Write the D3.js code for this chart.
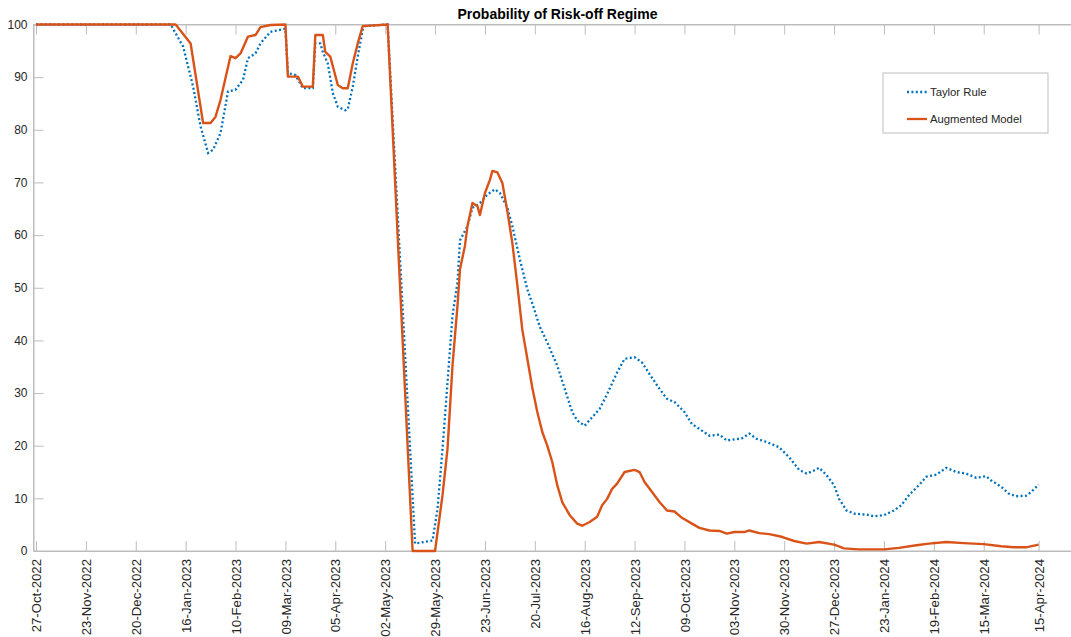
<!DOCTYPE html>
<html>
<head>
<meta charset="utf-8">
<script src="https://cdn.jsdelivr.net/npm/d3@7"></script>
<style>
  html, body { margin: 0; padding: 0; background: #fff; }
  svg { display: block; font-family: "Liberation Sans", Arial, Helvetica, sans-serif; }
</style>
</head>
<body>
<svg id="chart" width="1071" height="637"></svg>
<script>
// Observation positions (trading-day index) and tick labels for the x axis
const tickObs = [0, 20, 40, 60, 80, 100, 120, 140, 160, 180, 200, 220, 240, 260, 280, 300, 320, 340, 360, 380, 402];
const tickLabels = ["27-Oct-2022", "23-Nov-2022", "20-Dec-2022", "16-Jan-2023", "10-Feb-2023", "09-Mar-2023",
  "05-Apr-2023", "02-May-2023", "29-May-2023", "23-Jun-2023", "20-Jul-2023", "16-Aug-2023", "12-Sep-2023",
  "09-Oct-2023", "03-Nov-2023", "30-Nov-2023", "27-Dec-2023", "23-Jan-2024", "19-Feb-2024", "15-Mar-2024",
  "15-Apr-2024"];
const yTicks = [0, 10, 20, 30, 40, 50, 60, 70, 80, 90, 100];

// Taylor Rule: probability (%) of the risk-off regime
const taylorObs = [0, 54, 59, 63, 66, 69, 71, 74, 77, 80, 83, 85, 88, 90, 94, 100, 101, 104, 107, 111, 112, 114,
  115, 117, 119, 121, 124, 125, 127, 129, 131, 132, 141, 152, 159, 161, 163, 165, 167, 169, 170, 173, 175, 178,
  181, 184, 186, 189, 191, 194, 197, 199, 202, 205, 209, 212, 215, 217, 220, 223, 226, 229, 233, 236, 240, 243,
  246, 250, 253, 256, 260, 263, 266, 270, 274, 277, 283, 286, 289, 293, 298, 302, 306, 309, 312, 314, 317, 320,
  322, 325, 328, 333, 336, 340, 344, 347, 350, 354, 357, 361, 365, 369, 373, 377, 381, 383, 387, 390, 393, 397,
  399, 402];
const taylorRule = [100, 100, 95.8, 88.2, 80.6, 75.6, 76.2, 79.4, 87.3, 87.6, 89.5, 93.6, 94.5, 96.4, 98.6, 99.2,
  90.8, 90.4, 87.9, 87.9, 96.4, 96.4, 94.8, 92.6, 87.0, 84.4, 83.7, 83.9, 88.2, 93.9, 99.0, 99.7, 100, 1.4, 2.0,
  8.0, 19.4, 32.0, 44.7, 51.0, 59.0, 61.7, 65.2, 66.1, 67.7, 68.7, 68.0, 65.2, 61.7, 55.4, 49.7, 47.0, 42.6, 39.6,
  35.2, 30.8, 26.4, 24.8, 23.8, 25.4, 27.0, 29.8, 33.9, 36.5, 36.8, 35.8, 33.6, 30.8, 28.9, 28.3, 26.4, 24.1, 23.2,
  21.9, 22.1, 21.0, 21.4, 22.3, 21.3, 20.7, 19.7, 17.8, 15.4, 14.7, 15.3, 15.8, 14.4, 12.5, 9.9, 7.7, 7.1, 6.9,
  6.6, 6.8, 7.7, 8.7, 10.6, 12.5, 14.1, 14.5, 15.8, 15.0, 14.7, 13.9, 14.2, 13.4, 12.2, 10.9, 10.4, 10.5, 11.2,
  12.6];

// Augmented Model: probability (%) of the risk-off regime
const augmentedObs = [0, 56, 62, 67, 70, 72, 74, 78, 80, 82, 85, 88, 90, 94, 100, 101, 105, 107, 111, 112, 115,
  116, 118, 121, 123, 125, 127, 129, 131, 141, 151, 160, 163, 165, 167, 169, 170, 172, 173, 175, 177, 178, 180,
  182, 183, 185, 187, 189, 191, 193, 195, 197, 199, 201, 203, 205, 207, 209, 211, 214, 217, 219, 222, 225, 227,
  229, 231, 233, 236, 240, 242, 244, 247, 250, 253, 256, 259, 263, 266, 270, 274, 277, 280, 284, 286, 290, 294,
  299, 304, 309, 314, 320, 324, 330, 340, 346, 353, 358, 365, 372, 380, 387, 392, 397, 402];
const augmentedModel = [100, 100, 96.4, 81.3, 81.3, 82.5, 85.7, 94.0, 93.6, 94.5, 97.7, 98.0, 99.5, 99.9, 100,
  90.1, 90.1, 88.2, 88.2, 98.0, 98.0, 94.8, 93.9, 88.5, 87.9, 87.9, 92.6, 96.4, 99.7, 100, 0, 0, 10.6, 19.4,
  35.2, 46.6, 53.5, 58.0, 61.7, 66.1, 65.5, 63.8, 68.0, 70.5, 72.2, 71.9, 69.9, 64.5, 58.5, 50.5, 42.0, 36.5,
  31.0, 26.4, 22.6, 20.0, 16.9, 12.5, 9.3, 6.8, 5.2, 4.8, 5.5, 6.5, 8.7, 9.9, 11.8, 12.8, 15.0, 15.4, 15.0, 13.1,
  11.2, 9.3, 7.7, 7.5, 6.3, 5.2, 4.4, 3.9, 3.8, 3.3, 3.6, 3.6, 3.9, 3.4, 3.2, 2.7, 1.9, 1.4, 1.7, 1.2, 0.5, 0.3,
  0.3, 0.6, 1.1, 1.4, 1.7, 1.5, 1.3, 0.9, 0.7, 0.7, 1.2];

const seriesNames = ["Taylor Rule", "Augmented Model"];
const seriesColors = ["#0072BD", "#D95319"];

const svg = d3.select("#chart");
const plot = { left: 33.5, right: 1081, top: 24.5, bottom: 551 };

const x = d3.scaleLinear().domain([-1, 419]).range([plot.left, plot.right]);
const y = d3.scaleLinear().domain([0, 100]).range([plot.bottom, plot.top]);

const axisColor = "#bdbdbd";
const textColor = "#262626";
const tickLen = 10;

// Box around the axes
svg.append("rect")
  .attr("x", plot.left).attr("y", plot.top)
  .attr("width", plot.right - plot.left).attr("height", plot.bottom - plot.top)
  .attr("fill", "none").attr("stroke", axisColor).attr("stroke-width", 1);

// Bottom axis: inward ticks with rotated date labels
const xAxis = d3.axisBottom(x)
  .tickValues(tickObs)
  .tickSizeInner(-tickLen).tickSizeOuter(0)
  .tickPadding(9)
  .tickFormat((d, i) => tickLabels[i]);
const gx = svg.append("g").attr("transform", `translate(0,${plot.bottom})`).call(xAxis);
gx.select(".domain").attr("stroke", axisColor);
gx.selectAll(".tick line").attr("stroke", axisColor);
gx.selectAll(".tick text")
  .attr("fill", textColor).attr("font-size", 13.2)
  .attr("transform", "rotate(-90)")
  .attr("text-anchor", "end")
  .attr("x", -8).attr("y", 0).attr("dy", "0.35em");

// Top axis ticks (box style)
const gxTop = svg.append("g").attr("transform", `translate(0,${plot.top})`)
  .call(d3.axisTop(x).tickValues(tickObs).tickSizeInner(-tickLen).tickSizeOuter(0).tickFormat(""));
gxTop.select(".domain").attr("stroke", axisColor);
gxTop.selectAll(".tick line").attr("stroke", axisColor);

// Left axis with labels
const yAxis = d3.axisLeft(y).tickValues(yTicks).tickSizeInner(-tickLen).tickSizeOuter(0).tickPadding(6);
const gy = svg.append("g").attr("transform", `translate(${plot.left},0)`).call(yAxis);
gy.select(".domain").attr("stroke", axisColor);
gy.selectAll(".tick line").attr("stroke", axisColor);
gy.selectAll(".tick text").attr("fill", textColor).attr("font-size", 12).attr("x", -6);

// Right axis ticks
const gyR = svg.append("g").attr("transform", `translate(${plot.right},0)`)
  .call(d3.axisRight(y).tickValues(yTicks).tickSizeInner(-tickLen).tickSizeOuter(0).tickFormat(""));
gyR.select(".domain").attr("stroke", axisColor);
gyR.selectAll(".tick line").attr("stroke", axisColor);

// Series lines
svg.append("clipPath").attr("id", "plot-clip").append("rect")
  .attr("x", plot.left).attr("y", plot.top - 2)
  .attr("width", plot.right - plot.left).attr("height", plot.bottom - plot.top + 4);

const line = d3.line().x(d => x(d[0])).y(d => y(d[1]));
const seriesData = [
  d3.zip(taylorObs, taylorRule),
  d3.zip(augmentedObs, augmentedModel)
];

svg.append("path")
  .datum(seriesData[0])
  .attr("d", line)
  .attr("fill", "none")
  .attr("stroke", seriesColors[0])
  .attr("stroke-width", 2.3)
  .attr("stroke-dasharray", "2,2.4")
  .attr("clip-path", "url(#plot-clip)");

svg.append("path")
  .datum(seriesData[1])
  .attr("d", line)
  .attr("fill", "none")
  .attr("stroke", seriesColors[1])
  .attr("stroke-width", 2.4)
  .attr("stroke-linejoin", "round")
  .attr("clip-path", "url(#plot-clip)");

// Title
svg.append("text")
  .attr("x", 557.5).attr("y", 18.5)
  .attr("text-anchor", "middle")
  .attr("font-size", 14).attr("font-weight", "bold")
  .attr("fill", "#000")
  .text("Probability of Risk-off Regime");

// Legend
const legend = svg.append("g").attr("transform", "translate(883,73)");
legend.append("rect")
  .attr("width", 165).attr("height", 60)
  .attr("fill", "#fff").attr("stroke", axisColor);
seriesNames.forEach((name, i) => {
  const ly = 19 + i * 27;
  legend.append("line")
    .attr("x1", 24).attr("x2", 44).attr("y1", ly).attr("y2", ly)
    .attr("stroke", seriesColors[i]).attr("stroke-width", 2.3)
    .attr("stroke-dasharray", i === 0 ? "2,2.4" : null);
  legend.append("text")
    .attr("x", 47).attr("y", ly).attr("dy", "0.35em")
    .attr("font-size", 11.3).attr("fill", textColor)
    .text(name);
});
</script>
</body>
</html>
